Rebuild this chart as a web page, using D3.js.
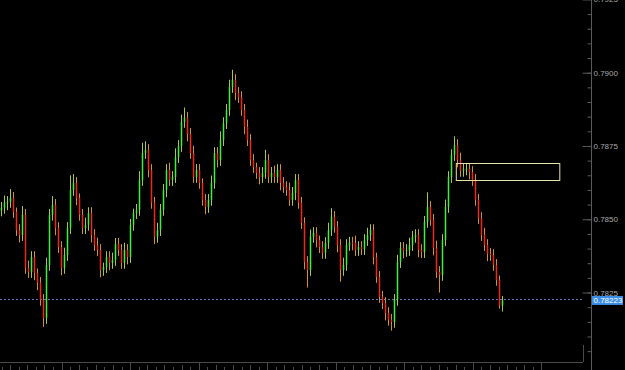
<!DOCTYPE html>
<meta charset="utf-8">
<head>
<!-- Load d3.js -->
<script src="https://d3js.org/d3.v7.min.js"></script>
<style>
  body { margin: 0; background: #000; }
  svg { display: block; }
</style>
</head>
<body>
<div id="my_dataviz"></div>

<script>

// closing price of every bar, left to right
var closes = [
  0.78539, 0.78556, 0.78559, 0.78573, 0.78525, 0.78463, 0.78446, 0.78515, 0.78334, 0.78320,
  0.78371, 0.78317, 0.78283, 0.78225, 0.78163, 0.78344, 0.78515, 0.78549, 0.78470, 0.78405,
  0.78334, 0.78378, 0.78470, 0.78600, 0.78624, 0.78573, 0.78515, 0.78470, 0.78481, 0.78521,
  0.78446, 0.78412, 0.78395, 0.78327, 0.78337, 0.78371, 0.78351, 0.78361, 0.78416, 0.78395,
  0.78351, 0.78395, 0.78371, 0.78481, 0.78521, 0.78532, 0.78634, 0.78726, 0.78736, 0.78668,
  0.78556, 0.78440, 0.78463, 0.78532, 0.78600, 0.78668, 0.78634, 0.78644, 0.78712, 0.78750,
  0.78832, 0.78846, 0.78791, 0.78726, 0.78644, 0.78668, 0.78624, 0.78566, 0.78542, 0.78566,
  0.78624, 0.78726, 0.78702, 0.78770, 0.78828, 0.78873, 0.78951, 0.78975, 0.78931, 0.78917,
  0.78873, 0.78815, 0.78770, 0.78702, 0.78678, 0.78658, 0.78644, 0.78658, 0.78702, 0.78644,
  0.78658, 0.78644, 0.78668, 0.78624, 0.78610, 0.78600, 0.78566, 0.78590, 0.78634, 0.78556,
  0.78487, 0.78354, 0.78327, 0.78440, 0.78453, 0.78429, 0.78405, 0.78385, 0.78419, 0.78463,
  0.78508, 0.78474, 0.78412, 0.78327, 0.78344, 0.78412, 0.78420, 0.78419, 0.78395, 0.78405,
  0.78398, 0.78429, 0.78446, 0.78463, 0.78371, 0.78303, 0.78235, 0.78214, 0.78180, 0.78157,
  0.78150, 0.78225, 0.78354, 0.78402, 0.78392, 0.78395, 0.78412, 0.78440, 0.78446, 0.78395,
  0.78388, 0.78491, 0.78542, 0.78498, 0.78402, 0.78320, 0.78310, 0.78429, 0.78542, 0.78644,
  0.78719, 0.78753, 0.78702, 0.78665, 0.78670, 0.78672, 0.78661, 0.78634, 0.78566, 0.78504,
  0.78446, 0.78412, 0.78382, 0.78378, 0.78344, 0.78293, 0.78205, 0.78223
];
var firstOpen = 0.78530;

// wick length above / below the body, in pips
var wickUp = [
  2, 2.5, 2, 3, 2, 1.5, 2, 3, 2, 2.5,
  2, 2, 1.5, 2, 2, 2.5, 2, 3, 2, 2,
  2, 2.5, 2, 5, 3, 2, 1.5, 2, 2.5, 2,
  2, 2, 2.5, 2, 1.5, 2, 2, 2.5, 2, 2,
  2, 2.5, 2, 2, 1.5, 2, 3, 3.5, 3, 2,
  2, 2, 2.5, 2, 2, 2, 2.5, 2, 3, 2,
  2.5, 3.5, 2, 2, 2.5, 2, 2, 1.5, 2, 2,
  2.5, 2, 2, 3, 2, 2, 2.5, 3.5, 2, 2,
  2, 2, 2.5, 2, 2, 1.5, 2, 2, 3.5, 2,
  2, 2.5, 2, 2, 2, 2, 2.5, 2, 2, 2,
  2, 2, 2, 2.5, 2, 2, 1.5, 2, 2, 2.5,
  3, 2, 2, 2, 2.5, 2, 2, 2, 2.5, 2,
  2, 2, 2.5, 2, 2, 1.5, 2, 2, 2, 2,
  2, 2, 2.5, 2, 2, 2, 2.5, 2, 2, 2,
  2, 2, 5, 2, 2, 2.5, 2, 2, 2.5, 2,
  2, 3, 2, 2.5, 2, 2, 2, 2, 2, 2,
  2, 2.5, 2, 2, 2, 2, 1.5, 1.5
];
var wickDown = [
  2, 2, 2.5, 2, 2, 2, 2.5, 2, 2, 2,
  2, 2.5, 2.5, 2, 3, 2, 2, 2, 2.5, 2,
  2.5, 2, 2, 2, 2, 2.5, 2, 2, 2, 2,
  2.5, 2, 2, 2.5, 2, 2, 2.5, 2, 2, 2,
  2, 2, 2.5, 2, 2, 2, 2, 2, 2, 2.5,
  2, 2.5, 2, 2, 2, 2.5, 2, 2, 2, 2,
  2, 2, 2.5, 2, 2, 2, 2, 2, 2.5, 2,
  2, 2, 2.5, 2, 2, 2, 2, 2, 2.5, 2,
  2, 2.5, 2, 2, 2, 2, 2.5, 2, 2, 2,
  2, 2, 2, 2.5, 2, 2, 2, 2, 2.5, 2,
  2, 2.5, 6, 2, 2, 2.5, 2, 2, 2, 2,
  2, 2, 2.5, 4, 2, 2, 2, 2.5, 2, 2,
  2, 2, 2, 2, 2.5, 2, 2, 2, 2.5, 2,
  3, 2, 2, 2, 2.5, 2, 2, 2, 2, 2.5,
  2, 2, 2, 2, 2.5, 2, 6, 2, 2, 2,
  2, 2, 2.5, 2, 2, 2, 2.5, 2, 2, 2,
  2, 2, 2.5, 2, 2, 2, 1, 2
];

// right axis labels and the current price marker
var priceTicks = [0.7925, 0.7900, 0.7875, 0.7850, 0.7825];
var lastPrice = 0.78223;

// day separators on the time axis (in bars)
var timeTicks = [-2.65, 20.2, 43.05, 65.9, 88.75, 111.6, 134.45, 157.3, 180.15];

// drawn box: start bar, end bar, top price, bottom price
var zone = [151.6, 186.1, 0.78691, 0.78633];

var width = 625, height = 370,
    plotRight = 583, axisX = 591.5, plotBottom = 362;

var svg = d3.select("#my_dataviz")
  .append("svg")
    .attr("width", width)
    .attr("height", height)
    .style("background", "#000");

var x = d3.scaleLinear().domain([0, 194]).range([1, plotRight]);
var y = d3.scaleLinear().domain([0.78013, 0.79248]).range([plotBottom, 0]);

svg.append("clipPath").attr("id", "plotclip")
  .append("rect").attr("x", 0).attr("y", 0).attr("width", plotRight).attr("height", plotBottom);

var bars = closes.map(function(c, i) {
  var o = i ? closes[i - 1] : firstOpen;
  return {
    i: i, o: o, c: c,
    h: Math.max(o, c) + wickUp[i] * 0.0001,
    l: Math.min(o, c) - wickDown[i] * 0.0001
  };
});

var plot = svg.append("g").attr("clip-path", "url(#plotclip)");

// dotted line at the last price
plot.append("line")
  .attr("x1", 0).attr("x2", plotRight)
  .attr("y1", Math.round(y(lastPrice)) - 0.5).attr("y2", Math.round(y(lastPrice)) - 0.5)
  .attr("stroke", "#5c7cb8")
  .attr("stroke-dasharray", "2,2");

// wicks
plot.selectAll(".wick")
  .data(bars)
  .enter()
  .append("line")
    .attr("class", "wick")
    .attr("x1", function(d) { return x(d.i) + 0.5 })
    .attr("x2", function(d) { return x(d.i) + 0.5 })
    .attr("y1", function(d) { return y(d.h) })
    .attr("y2", function(d) { return y(d.l) })
    .attr("stroke", function(d) { return d.c >= d.o ? "#a8cc38" : "#d8901e" })
    .attr("stroke-width", 1);

// bodies
plot.selectAll(".body")
  .data(bars)
  .enter()
  .append("rect")
    .attr("class", "body")
    .attr("x", function(d) { return x(d.i) - 0.25 })
    .attr("width", 1.5)
    .attr("y", function(d) { return y(Math.max(d.o, d.c)) })
    .attr("height", function(d) { return Math.max(1, Math.abs(y(d.o) - y(d.c))) })
    .attr("fill", function(d) { return d.c >= d.o ? "#3ef03e" : "#f02818" });

// drawn box
plot.append("rect")
  .attr("x", x(zone[0]) + 0.5)
  .attr("y", Math.round(y(zone[2])) + 0.5)
  .attr("width", x(zone[1]) - x(zone[0]))
  .attr("height", y(zone[3]) - y(zone[2]))
  .attr("fill", "none")
  .attr("stroke", "#e6e0a8")
  .attr("stroke-width", 1);

// right price axis
var minorAxis = d3.axisRight(y)
  .tickValues(y.ticks(25))
  .tickSizeInner(-4)
  .tickSizeOuter(0)
  .tickFormat("");
var majorAxis = d3.axisRight(y)
  .tickValues(priceTicks)
  .tickSizeInner(-9)
  .tickSizeOuter(0)
  .tickPadding(2)
  .tickFormat(d3.format(".4f"));

var gMinor = svg.append("g").attr("transform", "translate(" + axisX + ",0)").call(minorAxis);
var gMajor = svg.append("g").attr("transform", "translate(" + axisX + ",0)").call(majorAxis);
[gMinor, gMajor].forEach(function(g) {
  g.select(".domain").remove();
  g.selectAll("line").attr("stroke", "#5a5a5a");
  g.selectAll("text")
    .attr("fill", "#a8a8a8")
    .style("font-family", "'Liberation Sans', Arial, sans-serif")
    .style("font-size", "8px");
});

svg.append("line")
  .attr("x1", axisX).attr("x2", axisX)
  .attr("y1", 0).attr("y2", height)
  .attr("stroke", "#5a5a5a");
svg.append("line")
  .attr("x1", plotRight + 0.5).attr("x2", plotRight + 0.5)
  .attr("y1", 345).attr("y2", plotBottom)
  .attr("stroke", "#4a4a4a");

// bottom time axis
svg.append("line")
  .attr("x1", 0).attr("x2", plotRight)
  .attr("y1", plotBottom + 0.5).attr("y2", plotBottom + 0.5)
  .attr("stroke", "#4a4a4a");

var minorTicks = [];
timeTicks.forEach(function(t, k) {
  if (k === timeTicks.length - 1) return;
  var step = (timeTicks[k + 1] - t) / 8;
  for (var j = 1; j < 8; j++) minorTicks.push({v: t + j * step, tall: j % 2 === 0});
});

svg.selectAll(".tmajor")
  .data(timeTicks)
  .enter()
  .append("line")
    .attr("x1", function(d) { return Math.round(x(d)) + 0.5 })
    .attr("x2", function(d) { return Math.round(x(d)) + 0.5 })
    .attr("y1", plotBottom).attr("y2", height)
    .attr("stroke", "#4a4a4a");

svg.selectAll(".tminor")
  .data(minorTicks.filter(function(d) { return x(d.v) < plotRight }))
  .enter()
  .append("line")
    .attr("x1", function(d) { return Math.round(x(d.v)) + 0.5 })
    .attr("x2", function(d) { return Math.round(x(d.v)) + 0.5 })
    .attr("y1", function(d) { return d.tall ? 365 : 367 }).attr("y2", height)
    .attr("stroke", "#4a4a4a");

// last price marker on the axis
var ly = y(lastPrice);
svg.append("rect")
  .attr("x", axisX + 0.5).attr("y", ly - 4.5)
  .attr("width", 31).attr("height", 9)
  .attr("fill", "#3a8ee8");
svg.append("text")
  .attr("x", axisX + 2).attr("y", ly + 3)
  .attr("fill", "#ffffff")
  .style("font-family", "'Liberation Sans', Arial, sans-serif")
  .style("font-size", "8px")
  .text(d3.format(".5f")(lastPrice));

</script>
</body>
